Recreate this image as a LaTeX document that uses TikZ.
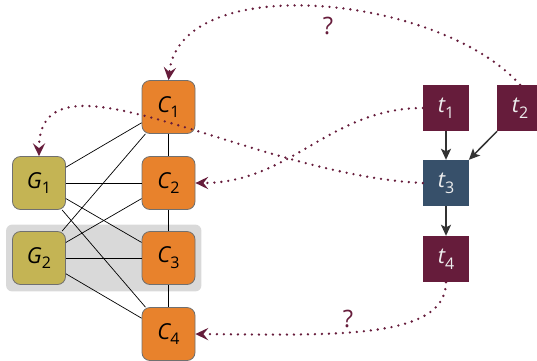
\documentclass[tikz,border=0pt]{standalone}
\usepackage{fontspec}
\setmainfont{Open Sans}
\usetikzlibrary{arrows.meta,fit,backgrounds}
\definecolor{corange}{HTML}{E8822C}
\definecolor{colive}{HTML}{C4B454}
\definecolor{cred}{HTML}{661C3B}
\definecolor{cblue}{HTML}{37506A}
\definecolor{cband}{HTML}{D9D9D9}
\definecolor{cborder}{HTML}{707070}
\definecolor{carrow}{HTML}{333333}
\newcommand{\lbl}[2]{\fontsize{22}{24}\selectfont\itshape #1\upshape\raisebox{-0.27em}{\fontsize{16}{16}\selectfont #2}}
\begin{document}
\begin{tikzpicture}[x=1pt,y=-1pt,
  cbox/.style={draw=cborder,line width=0.8pt,rounded corners=8pt,fill=corange,minimum size=53pt,inner sep=0pt},
  gbox/.style={cbox,fill=colive},
  tbox/.style={fill=cred,text=white!93!black,minimum size=46pt,inner sep=0pt},
  tbluebox/.style={tbox,fill=cblue},
  link/.style={draw=black,line width=0.7pt},
  tarrow/.style={draw=carrow,line width=1.5pt,-{Stealth[length=11pt,width=10pt,inset=2.5pt]}},
  dotarrow/.style={draw=cred,line width=2.6pt,line cap=round,dash pattern=on 0pt off 7pt,-{Stealth[length=13pt,width=12.5pt,inset=5pt,line width=0pt]}},
  qlabel/.style={text=cred,font=\fontsize{24}{26}\selectfont}]
\useasboundingbox (0,0) rectangle (537,360);
% nodes
\node[cbox] (C1) at (168.5,107) {\lbl{C}{1}};
\node[cbox] (C2) at (168.5,183) {\lbl{C}{2}};
\node[cbox] (C3) at (168.5,258) {\lbl{C}{3}};
\node[cbox] (C4) at (168.5,334) {\lbl{C}{4}};
\node[gbox] (G1) at (39,183) {\lbl{G}{1}};
\node[gbox] (G2) at (39,258) {\lbl{G}{2}};
\node[tbox] (t1) at (446,108) {\lbl{t}{1}};
\node[tbox] (t2) at (520,108) {\lbl{t}{2}};
\node[tbluebox] (t3) at (446,183) {\lbl{t}{3}};
\node[tbox] (t4) at (446,259) {\lbl{t}{4}};
\begin{scope}[on background layer]
  \node[fit=(G2)(C3),inner xsep=6pt,inner ysep=6.5pt,fill=cband,rounded corners=6pt] (band) {};
\end{scope}
% links
\draw[link] (C1) -- (C2);
\draw[link] (C2) -- (C3);
\draw[link] (C3) -- (C4);
\draw[link] (G1) -- (C1);
\draw[link] (G1) -- (C2);
\draw[link] (G1) -- (C3);
\draw[link] (G1) -- (C4);
\draw[link] (G2) -- (C1);
\draw[link] (G2) -- (C2);
\draw[link] (G2) -- (C3);
\draw[link] (G2) -- (C4);
% task arrows
\draw[tarrow] (t1) -- (t3);
\draw[tarrow] (t2) -- (t3);
\draw[tarrow] (t3) -- (t4);
% dotted arrows
\draw[dotarrow] (t2.north) .. controls +(-80,-90) and +(12,-111) .. (C1.north);
\draw[dotarrow] (t3.west) .. controls +(-173,-8) and +(0,-117) .. (G1.north);
\draw[dotarrow] (t1.west) .. controls +(-93,0) and +(95,0) .. (C2.east);
\draw[dotarrow] (t4.south) .. controls +(0,58) and +(135,1) .. (C4.east);
\node[qlabel] (q1) at (328,26) {?};
\node[qlabel] (q2) at (348,318.5) {?};
\end{tikzpicture}
\end{document}
